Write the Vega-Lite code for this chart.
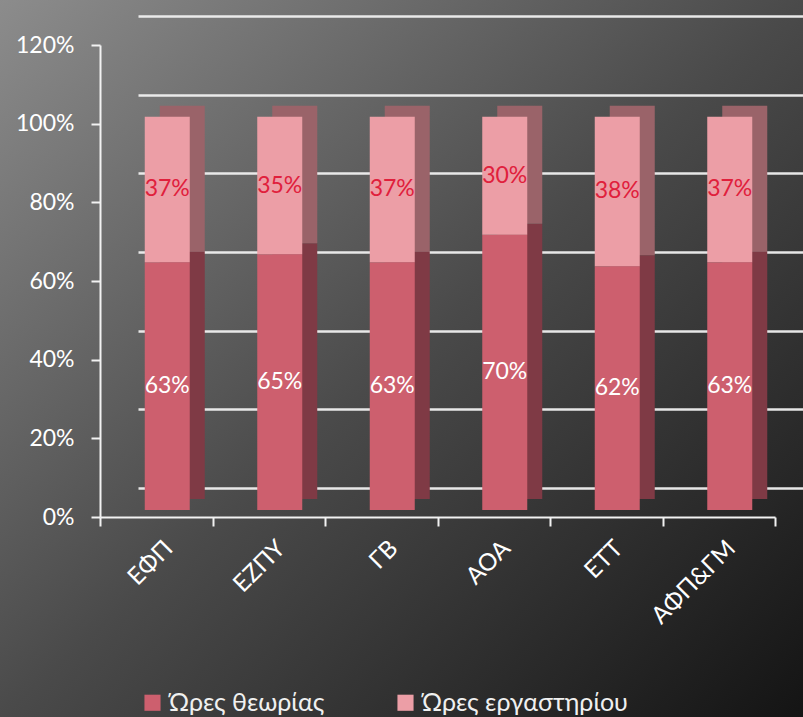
{
  "$schema": "https://vega.github.io/schema/vega-lite/v6.json",
  "width": 803,
  "height": 717,
  "autosize": {"type": "none"},
  "padding": 0,
  "background": "#3a3a3a",
  "config": {
    "font": "Lato",
    "view": {
      "stroke": null,
      "fill": {
        "gradient": "linear",
        "x1": 0, "y1": 0, "x2": 1, "y2": 1,
        "stops": [
          {"offset": 0, "color": "#8c8c8c"},
          {"offset": 0.5, "color": "#4a4a4a"},
          {"offset": 1, "color": "#141414"}
        ]
      }
    }
  },
  "data": {
    "values": [
      {"cat": "ΕΦΠ", "type": "Ώρες θεωρίας", "value": 0.63},
      {"cat": "ΕΦΠ", "type": "Ώρες εργαστηρίου", "value": 0.37},
      {"cat": "ΕΖΠΥ", "type": "Ώρες θεωρίας", "value": 0.65},
      {"cat": "ΕΖΠΥ", "type": "Ώρες εργαστηρίου", "value": 0.35},
      {"cat": "ΓΒ", "type": "Ώρες θεωρίας", "value": 0.63},
      {"cat": "ΓΒ", "type": "Ώρες εργαστηρίου", "value": 0.37},
      {"cat": "ΑΟΑ", "type": "Ώρες θεωρίας", "value": 0.70},
      {"cat": "ΑΟΑ", "type": "Ώρες εργαστηρίου", "value": 0.30},
      {"cat": "ΕΤΤ", "type": "Ώρες θεωρίας", "value": 0.62},
      {"cat": "ΕΤΤ", "type": "Ώρες εργαστηρίου", "value": 0.38},
      {"cat": "ΑΦΠ&ΓΜ", "type": "Ώρες θεωρίας", "value": 0.63},
      {"cat": "ΑΦΠ&ΓΜ", "type": "Ώρες εργαστηρίου", "value": 0.37}
    ]
  },
  "layer": [
    {
      "mark": {"type": "point", "opacity": 0},
      "encoding": {
        "x": {
          "field": "cat",
          "type": "nominal",
          "sort": ["ΕΦΠ", "ΕΖΠΥ", "ΓΒ", "ΑΟΑ", "ΕΤΤ", "ΑΦΠ&ΓΜ"],
          "scale": {"paddingInner": 0, "paddingOuter": 0, "range": [138, 813]},
          "axis": null
        },
        "y": {
          "field": "value",
          "type": "quantitative",
          "scale": {"domain": [0, 1.2], "nice": false, "range": [488, 16]},
          "axis": {
            "orient": "left",
            "title": null,
            "values": [0, 0.2, 0.4, 0.6, 0.8, 1.0, 1.2],
            "labels": false,
            "ticks": false,
            "domain": false,
            "grid": true,
            "gridColor": "#f0f0f0",
            "gridWidth": 2.5,
            "gridOpacity": 0.95
          }
        }
      }
    },
    {
      "encoding": {
        "x": {
          "field": "cat",
          "type": "nominal",
          "sort": ["ΕΦΠ", "ΕΖΠΥ", "ΓΒ", "ΑΟΑ", "ΕΤΤ", "ΑΦΠ&ΓΜ"],
          "scale": {"paddingInner": 0, "paddingOuter": 0, "range": [100, 775]},
          "axis": {
            "orient": "bottom",
            "title": null,
            "offset": -200,
            "labelAngle": -45,
            "labelFontSize": 24,
            "labelColor": "#ffffff",
            "labelPadding": 10,
            "labelOffset": 4,
            "domainColor": "#f2f2f2",
            "domainWidth": 2,
            "tickColor": "#f2f2f2",
            "tickWidth": 2,
            "tickSize": 9,
            "tickBand": "extent",
            "grid": false
          }
        },
        "y": {
          "field": "value",
          "type": "quantitative",
          "stack": "zero",
          "scale": {"domain": [0, 1.2], "nice": false, "range": [517, 45]},
          "axis": {
            "orient": "left",
            "title": null,
            "offset": -100,
            "values": [0, 0.2, 0.4, 0.6, 0.8, 1.0, 1.2],
            "format": ".0%",
            "labelFontSize": 23,
            "labelColor": "#ffffff",
            "labelPadding": 17,
            "domainColor": "#f2f2f2",
            "domainWidth": 2,
            "tickColor": "#f2f2f2",
            "tickWidth": 2,
            "tickSize": 9,
            "grid": false
          }
        },
        "order": {"field": "type", "sort": "descending"}
      },
      "layer": [
        {
          "mark": {"type": "bar", "width": {"band": 0.4}, "xOffset": 26, "yOffset": -18},
          "encoding": {
            "color": {
              "field": "type",
              "type": "nominal",
              "scale": {"domain": ["Ώρες θεωρίας", "Ώρες εργαστηρίου"], "range": ["#7f3a45", "#9a6369"]},
              "legend": null
            }
          }
        },
        {
          "mark": {"type": "bar", "width": {"band": 0.4}, "xOffset": 11, "yOffset": -7},
          "encoding": {
            "color": {
              "field": "type",
              "type": "nominal",
              "scale": {"domain": ["Ώρες θεωρίας", "Ώρες εργαστηρίου"], "range": ["#cd5f6e", "#ec9ea6"]},
              "legend": {
                "title": null,
                "orient": "none",
                "legendX": 140,
                "legendY": 690,
                "direction": "horizontal",
                "symbolType": "square",
                "symbolSize": 260,
                "symbolStrokeWidth": 0,
                "labelFontSize": 25,
                "labelLimit": 400,
                "labelColor": "#f0f0f0",
                "labelOffset": 4,
                "columnPadding": 68
              }
            }
          }
        },
        {
          "mark": {"type": "text", "xOffset": 11, "yOffset": -7, "fontSize": 23},
          "encoding": {
            "y": {"field": "value", "type": "quantitative", "stack": "zero", "bandPosition": 0.5},
            "text": {"field": "value", "type": "quantitative", "format": ".0%"},
            "color": {
              "field": "type",
              "type": "nominal",
              "scale": {"domain": ["Ώρες θεωρίας", "Ώρες εργαστηρίου"], "range": ["#ffffff", "#e0203c"]},
              "legend": null
            }
          }
        }
      ],
      "resolve": {"scale": {"color": "independent"}}
    }
  ],
  "resolve": {"scale": {"x": "independent", "y": "independent", "color": "independent"}}
}
